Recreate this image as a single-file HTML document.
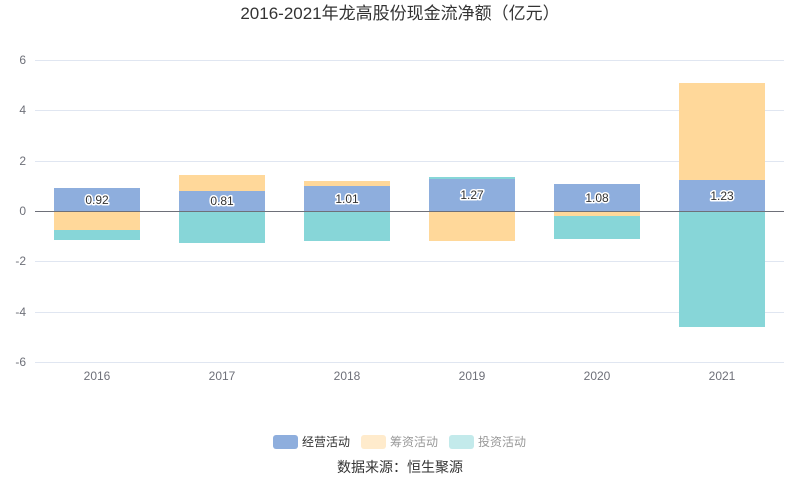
<!DOCTYPE html>
<html><head><meta charset="utf-8"><style>
html,body{margin:0;padding:0;background:#fff;width:800px;height:501px;overflow:hidden}
svg text{font-family:"Liberation Sans","Noto Sans CJK SC",sans-serif}
</style></head><body>
<svg width="800" height="501" viewBox="0 0 800 501" xmlns="http://www.w3.org/2000/svg">
<text x="400" y="19" text-anchor="middle" font-size="17" fill="#333">2016-2021年龙高股份现金流净额（亿元）</text>
<g stroke="#e0e6f1" stroke-width="1">
<line x1="35" x2="784" y1="60.5" y2="60.5"/>
<line x1="35" x2="784" y1="110.5" y2="110.5"/>
<line x1="35" x2="784" y1="161.5" y2="161.5"/>
<line x1="35" x2="784" y1="261.5" y2="261.5"/>
<line x1="35" x2="784" y1="312.5" y2="312.5"/>
<line x1="35" x2="784" y1="362.5" y2="362.5"/>
</g>
<g font-size="12" fill="#6e7079" text-anchor="end">
<text x="26" y="64">6</text><text x="26" y="114">4</text><text x="26" y="165">2</text>
<text x="26" y="215">0</text><text x="26" y="265">-2</text><text x="26" y="316">-4</text><text x="26" y="366">-6</text>
</g>
<g>
<!-- 2016 -->
<rect x="54" y="188" width="86" height="23" fill="#8eaedd"/>
<rect x="54" y="211" width="86" height="19" fill="#ffd89a"/>
<rect x="54" y="230" width="86" height="10" fill="#87d6d8"/>
<!-- 2017 -->
<rect x="179" y="175" width="86" height="16" fill="#ffd89a"/>
<rect x="179" y="191" width="86" height="20" fill="#8eaedd"/>
<rect x="179" y="211" width="86" height="32" fill="#87d6d8"/>
<!-- 2018 -->
<rect x="304" y="181" width="86" height="5" fill="#ffd89a"/>
<rect x="304" y="186" width="86" height="25" fill="#8eaedd"/>
<rect x="304" y="211" width="86" height="30" fill="#87d6d8"/>
<!-- 2019 -->
<rect x="429" y="177" width="86" height="2" fill="#87d6d8"/>
<rect x="429" y="179" width="86" height="32" fill="#8eaedd"/>
<rect x="429" y="211" width="86" height="30" fill="#ffd89a"/>
<!-- 2020 -->
<rect x="554" y="184" width="86" height="27" fill="#8eaedd"/>
<rect x="554" y="211" width="86" height="5" fill="#ffd89a"/>
<rect x="554" y="216" width="86" height="23" fill="#87d6d8"/>
<!-- 2021 -->
<rect x="679" y="83" width="86" height="97" fill="#ffd89a"/>
<rect x="679" y="180" width="86" height="31" fill="#8eaedd"/>
<rect x="679" y="211" width="86" height="116" fill="#87d6d8"/>
</g>
<line x1="35" x2="784" y1="211.5" y2="211.5" stroke="#6e7079" stroke-width="1"/>
<g font-size="12" fill="#333" text-anchor="middle" stroke="#fff" stroke-width="3" paint-order="stroke" stroke-linejoin="round">
<text x="97" y="204">0.92</text><text x="222" y="205">0.81</text><text x="347" y="203">1.01</text>
<text x="472" y="199">1.27</text><text x="597" y="202">1.08</text><text x="722" y="200">1.23</text>
</g>
<g font-size="12" fill="#6e7079" text-anchor="middle">
<text x="97" y="380">2016</text><text x="222" y="380">2017</text><text x="347" y="380">2018</text>
<text x="472" y="380">2019</text><text x="597" y="380">2020</text><text x="722" y="380">2021</text>
</g>
<g font-size="12">
<rect x="273" y="435" width="25" height="14" rx="3" fill="#8eaedd"/>
<text x="302" y="446" fill="#333">经营活动</text>
<rect x="361" y="435" width="25" height="14" rx="3" fill="#ffebcc"/>
<text x="390" y="446" fill="#999">筹资活动</text>
<rect x="449" y="435" width="25" height="14" rx="3" fill="#c3eaeb"/>
<text x="478" y="446" fill="#999">投资活动</text>
</g>
<text x="400" y="472" text-anchor="middle" font-size="14" fill="#333">数据来源：恒生聚源</text>
</svg>
</body></html>
